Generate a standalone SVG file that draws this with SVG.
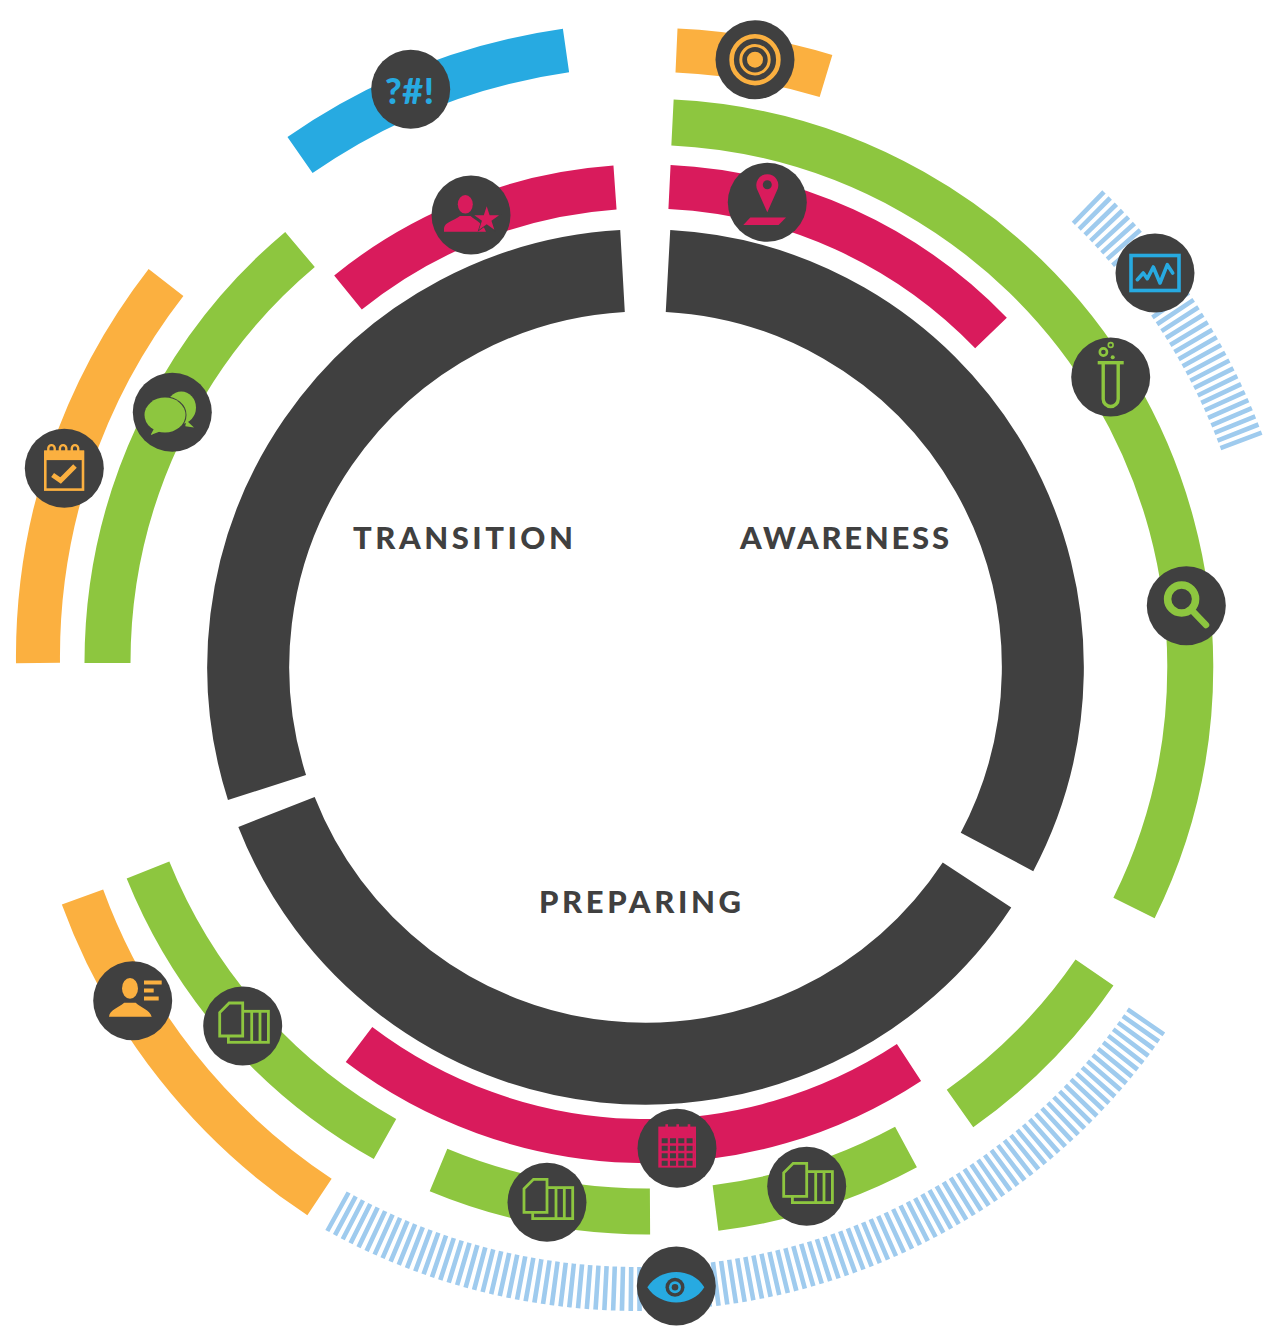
<svg xmlns="http://www.w3.org/2000/svg" xmlns:xlink="http://www.w3.org/1999/xlink" width="1280" height="1339" viewBox="0 0 1280 1339">
<style>
.arc{fill:none;stroke-linecap:butt}
.dark{stroke:#404040;stroke-width:82}
.red{stroke:#D91B5C;stroke-width:44}
.green{stroke:#8DC63F;stroke-width:46}
.orange{stroke:#FBB040;stroke-width:44}
.blue{stroke:#27AAE1;stroke-width:44}
.hatch{stroke:#9FCBEE;stroke-width:44;stroke-dasharray:4.6 3.9}
.disc{fill:#404040}
.fo{fill:#FBB040}.fb{fill:#27AAE1}.fg{fill:#8DC63F}.fr{fill:#D91B5C}.fd{fill:#404040}
.so,.sb,.sg,.sr{fill:none}
.so{stroke:#FBB040}.sb{stroke:#27AAE1}.sg{stroke:#8DC63F}.sr{stroke:#D91B5C}
.title{font-family:Lato,"Liberation Sans",sans-serif;font-weight:900;font-size:31px;fill:#404040}
.glyph{font-family:Lato,"Liberation Sans",sans-serif;font-weight:900;font-size:36px;fill:#27AAE1}
</style>
<defs>
<circle id="d" class="disc" r="39.5"/>
<g id="docs">
<rect x="-14.3" y="-14.7" width="40" height="31" fill="#404040" stroke="#8DC63F" stroke-width="2.8"/>
<path d="M9 -14.7V16.3M17.3 -14.7V16.3" fill="none" stroke="#8DC63F" stroke-width="2.8"/>
<path d="M-13.5 -23H0V10H-23V-13.5Z" fill="#404040" stroke="#8DC63F" stroke-width="2.8"/>
</g>
</defs>
<rect width="1280" height="1339" fill="#fff"/>
<g id="rings">
<path class="arc dark" d="M668 271A396.5 396.5 0 0 1 997 852"/>
<path class="arc dark" d="M977 885A396.5 396.5 0 0 1 276.5 812"/>
<path class="arc dark" d="M267 787.5A396.5 396.5 0 0 1 622.5 271"/>
<path class="arc red" d="M669.5 187A479 479 0 0 1 991 333"/>
<path class="arc red" d="M348 292.5A479 479 0 0 1 615 187.5"/>
<path class="arc red" d="M909 1062.5A477 477 0 0 1 359 1044.5"/>
<path class="arc green" d="M672.5 122.5A545 545 0 0 1 1134 908"/>
<path class="arc green" d="M1094.5 972.5A544 544 0 0 1 960 1108.5"/>
<path class="arc green" d="M906 1147A545 545 0 0 1 715.5 1208"/>
<path class="arc green" d="M650 1211.5A544 544 0 0 1 438.5 1170"/>
<path class="arc green" d="M385 1139A540 540 0 0 1 148 870"/>
<path class="arc green" d="M107.5 663A540 540 0 0 1 300 249.5"/>
<path class="arc orange" d="M38 663A610 610 0 0 1 166 282.5"/>
<path class="arc orange" d="M319.5 1197A612 612 0 0 1 82.5 897"/>
<path class="arc orange" d="M676.5 50.5A617 617 0 0 1 826 76"/>
<path class="arc blue" d="M300 155A620 620 0 0 1 566 50.5"/>
<path class="arc hatch" d="M1147 1020A618 618 0 0 1 333 1209"/>
<path class="arc hatch" d="M1087 206A638 638 0 0 1 1242 443"/>
</g>
<g id="label-transition"><text class="title" x="353" y="549" textLength="220" lengthAdjust="spacing">TRANSITION</text></g>
<g id="label-awareness"><text class="title" x="740" y="549" textLength="209" lengthAdjust="spacing">AWARENESS</text></g>
<g id="label-preparing"><text class="title" x="539" y="913" textLength="202" lengthAdjust="spacing">PREPARING</text></g>

<g id="node-symbols" transform="translate(410.7 89.3)"><use href="#d"/><text class="glyph" x="-25.7" y="14.7" textLength="49" lengthAdjust="spacing">?#!</text></g>

<g id="node-target" transform="translate(755 59.7)"><use href="#d"/>
<circle class="so" r="23.4" stroke-width="4.6"/><circle class="so" r="14.2" stroke-width="3"/><circle class="fo" r="8"/></g>

<g id="node-person-star" transform="translate(471 215)"><use href="#d"/>
<ellipse class="fr" cx="-5.7" cy="-10.7" rx="7.5" ry="9.3"/>
<path class="fr" d="M-27 16.7V13C-26 7 -18 6 -11 1H-0.5C5 6 12 8 15 16.7Z"/>
<polygon class="fr" stroke="#404040" stroke-width="1.5" paint-order="stroke" points="15.7,-8.7 18.6,0.25 28.06,0.28 20.46,5.85 23.34,14.8 15.7,9.3 8.06,14.8 10.94,5.85 3.34,0.28 12.8,0.25"/></g>

<g id="node-pin" transform="translate(767.3 202.3)"><use href="#d"/>
<path class="fr" d="M0 10L-10 -12.5A11 11 0 1 1 10 -12.5Z"/><circle class="fd" cx="0" cy="-17.6" r="4.5"/>
<polygon class="fr" points="-17,15.3 18.7,15.3 11.3,22.7 -24,22.7"/></g>

<g id="node-monitor" transform="translate(1155 273)"><use href="#d"/>
<rect class="sb" x="-24" y="-17.5" width="48" height="35" stroke-width="3.6"/>
<polyline class="sb" stroke-width="3.6" stroke-linecap="round" stroke-linejoin="round" points="-17.7,6.7 -11.7,0 -7.7,5.7 -1.7,-6 5,10 12.3,-8.3 17.7,0"/></g>

<g id="node-tube" transform="translate(1110.7 377)"><use href="#d"/>
<rect class="fg" x="-13" y="-16" width="26" height="3.4"/>
<path class="sg" stroke-width="3.4" d="M-7.5 -14V22A7.5 7.5 0 0 0 7.5 22V-14"/>
<circle class="sg" cx="-7.3" cy="-25" r="3.6" stroke-width="2.6"/><circle class="sg" cx="0" cy="-32" r="2.4" stroke-width="1.6"/><circle class="fg" cx="2" cy="-19.7" r="2"/></g>

<g id="node-magnifier" transform="translate(1186.3 605.7)"><use href="#d"/>
<circle class="sg" cx="-4.7" cy="-6.7" r="14" stroke-width="7.5"/>
<path class="sg" stroke-width="6.5" stroke-linecap="round" d="M7 6L19.7 19.3"/></g>

<g id="node-calendar-check" transform="translate(64.3 468.3)"><use href="#d"/>
<rect class="so" x="-19" y="-16.5" width="37.7" height="37.8" stroke-width="2.6"/>
<rect class="fo" x="-20" y="-17.7" width="39.7" height="9.5"/>
<path class="so" stroke-width="2.4" d="M-16 -15V-20A3.2 3.2 0 0 1 -9.6 -20V-15M-4.4 -15V-20A3.2 3.2 0 0 1 2 -20V-15M7.5 -15V-20A3.2 3.2 0 0 1 13.9 -20V-15"/>
<polyline class="so" stroke-width="5" points="-11.7,6.7 -3.7,12.3 10.7,-2.3"/></g>

<g id="node-chat" transform="translate(172.3 412.3)"><use href="#d"/>
<ellipse class="fg" cx="9" cy="-4.7" rx="14.7" ry="16"/><path class="fg" d="M14 8L21.7 15.3L13 14Z"/>
<ellipse class="fg" stroke="#404040" stroke-width="2" paint-order="stroke" cx="-7.3" cy="2.7" rx="20.5" ry="17.5"/>
<path class="fg" d="M-17 14L-21.7 22.7L-9 18Z"/></g>

<g id="node-person-lines" transform="translate(132.7 1000.7)"><use href="#d"/>
<ellipse class="fo" cx="-2.7" cy="-12.3" rx="8" ry="10.3"/>
<path class="fo" d="M-23.7 16C-23 9 -14 7 -8.5 2H3C8 7 17 9 19 16Z"/>
<path class="so" stroke-width="4" d="M11.3 -18.3H29M11.3 -10.3H21M11.3 -2.3H26"/></g>

<g id="node-docs-1" transform="translate(242.7 1026)"><use href="#d"/><use href="#docs"/></g>

<g id="node-calendar" transform="translate(677 1148.3)"><use href="#d"/>
<rect class="fr" x="-18.7" y="-21.7" width="37.7" height="41"/>
<path stroke="#404040" stroke-width="5" stroke-dasharray="6 2.3" fill="none" d="M-15.3 -7.5H18M-15.3 0H18M-15.3 7.5H18M-15.3 15H18"/>
<path class="sr" stroke-width="2.6" d="M-10.3 -24V-16M0.7 -24V-16M12 -24V-16"/></g>

<g id="node-docs-2" transform="translate(547 1202.3)"><use href="#d"/><use href="#docs"/></g>
<g id="node-docs-3" transform="translate(806.7 1186.3)"><use href="#d"/><use href="#docs"/></g>

<g id="node-eye" transform="translate(676.3 1286)"><use href="#d"/>
<path class="fb" d="M-29 1.3C-16 -19 16 -19 28 1.3C16 21.5 -16 21.5 -29 1.3Z"/>
<circle class="fd" cx="-1.3" cy="1.3" r="9.5"/><circle class="fb" cx="-1.3" cy="1.3" r="6"/><circle class="fd" cx="-1.3" cy="1.3" r="3.3"/></g>
</svg>
